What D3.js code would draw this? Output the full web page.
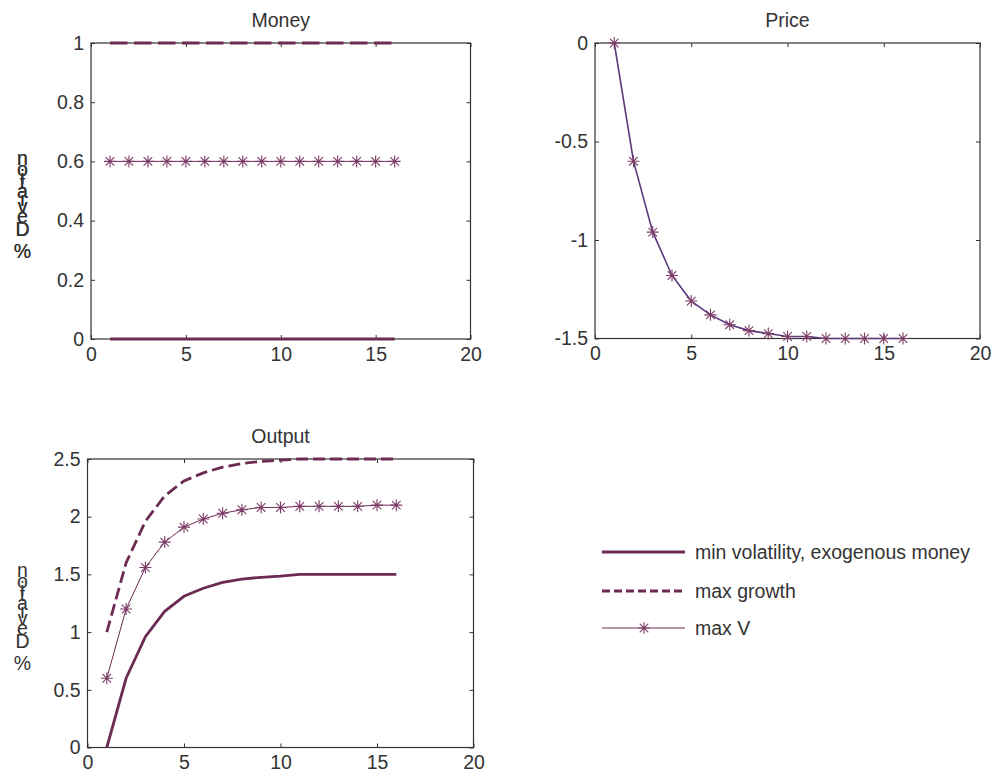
<!DOCTYPE html>
<html>
<head>
<meta charset="utf-8">
<script src="https://cdn.jsdelivr.net/npm/d3@7"></script>
<style>
  body { margin: 0; background: #fff; }
  svg { display: block; font-family: "Liberation Sans", Arial, Helvetica, sans-serif; }
  .tick text { fill: #333; font-size: 19.5px; }
  .title { fill: #333; font-size: 19.5px; }
  .legend text { fill: #333; font-size: 19.5px; }
</style>
</head>
<body>
<script>
'use strict';

// periods on the x axis
let periods = [1, 2, 3, 4, 5, 6, 7, 8, 9, 10, 11, 12, 13, 14, 15, 16];
let xTicks = [0, 5, 10, 15, 20];

// money panel
let moneyMinVol = [0, 0, 0, 0, 0, 0, 0, 0, 0, 0, 0, 0, 0, 0, 0, 0];
let moneyMaxGrowth = [1, 1, 1, 1, 1, 1, 1, 1, 1, 1, 1, 1, 1, 1, 1, 1];
let moneyMaxV = [0.6, 0.6, 0.6, 0.6, 0.6, 0.6, 0.6, 0.6, 0.6, 0.6, 0.6, 0.6, 0.6, 0.6, 0.6, 0.6];
let moneyYTicks = [0, 0.2, 0.4, 0.6, 0.8, 1];

// price panel (all series lie on top of each other)
let priceMaxV = [0, -0.6, -0.96, -1.18, -1.31, -1.38, -1.43, -1.46, -1.475, -1.49, -1.49, -1.5, -1.5, -1.5, -1.5, -1.5];
let priceYTicks = [-1.5, -1, -0.5, 0];

// output panel
let outputMinVol = [0, 0.6, 0.96, 1.18, 1.31, 1.38, 1.43, 1.46, 1.475, 1.485, 1.5, 1.5, 1.5, 1.5, 1.5, 1.5];
let outputMaxGrowth = [1, 1.6, 1.96, 2.18, 2.31, 2.38, 2.43, 2.46, 2.48, 2.49, 2.5, 2.5, 2.5, 2.5, 2.5, 2.5];
let outputMaxV = [0.6, 1.2, 1.56, 1.78, 1.91, 1.98, 2.03, 2.06, 2.08, 2.08, 2.09, 2.09, 2.09, 2.09, 2.1, 2.1];
let outputYTicks = [0, 0.5, 1, 1.5, 2, 2.5];

let legendLabels = ["min volatility, exogenous money", "max growth", "max V"];
let yLabel = "% Deviation";

// colours
let lineColor = "#6b2b53";
let priceColor = "#5a3a7c";
let starColor = "#7d3c66";
let axisColor = "#333";
let fontSize = 19.5;

let svg = d3.select("body").append("svg")
  .attr("width", 997)
  .attr("height", 776);

// asterisk marker like matlab '*'
let starPath = "M-6,0H6M0,-6V6M-4.3,-4.3L4.3,4.3M-4.3,4.3L4.3,-4.3";

let panels = [
  {
    title: "Money", left: 91, right: 470.5, top: 43, bottom: 339,
    yDomain: [0, 1], yTicks: moneyYTicks, labelY: 206.5, dash: "17.5,6.5",
    series: [
      { values: moneyMinVol, kind: "solid" },
      { values: moneyMaxGrowth, kind: "dashed" },
      { values: moneyMaxV, kind: "star" }
    ]
  },
  {
    title: "Price", left: 595, right: 980, top: 43, bottom: 338.5,
    yDomain: [-1.5, 0], yTicks: priceYTicks, labelY: 206.5, dash: "12,5",
    series: [
      { values: priceMaxV, kind: "star", color: priceColor, width: 1.6 }
    ]
  },
  {
    title: "Output", left: 87.5, right: 473.5, top: 459, bottom: 747.5,
    yDomain: [0, 2.5], yTicks: outputYTicks, labelY: 618.5, dash: "12,5",
    series: [
      { values: outputMinVol, kind: "solid" },
      { values: outputMaxGrowth, kind: "dashed" },
      { values: outputMaxV, kind: "star" }
    ]
  }
];

panels.forEach(drawPanel);
drawLegend();

function drawPanel(p) {
  let x = d3.scaleLinear().domain([0, 20]).range([p.left, p.right]);
  let y = d3.scaleLinear().domain(p.yDomain).range([p.bottom, p.top]);
  let g = svg.append("g");

  // box
  g.append("rect")
    .attr("x", p.left).attr("y", p.top)
    .attr("width", p.right - p.left).attr("height", p.bottom - p.top)
    .attr("fill", "none").attr("stroke", axisColor).attr("stroke-width", 1.2);

  // axes with inward ticks, matlab uses a plain hyphen for minus
  let fmt = d => String(d);
  let bottomAxis = g.append("g")
    .attr("transform", "translate(0," + p.bottom + ")")
    .call(d3.axisBottom(x).tickValues(xTicks).tickSize(-4).tickSizeOuter(0).tickPadding(8).tickFormat(fmt));
  let leftAxis = g.append("g")
    .attr("transform", "translate(" + p.left + ",0)")
    .call(d3.axisLeft(y).tickValues(p.yTicks).tickSize(-4).tickSizeOuter(0).tickPadding(7).tickFormat(fmt));
  let topAxis = g.append("g")
    .attr("transform", "translate(0," + p.top + ")")
    .call(d3.axisTop(x).tickValues(xTicks).tickSize(-4).tickSizeOuter(0).tickFormat(""));
  let rightAxis = g.append("g")
    .attr("transform", "translate(" + p.right + ",0)")
    .call(d3.axisRight(y).tickValues(p.yTicks).tickSize(-4).tickSizeOuter(0).tickFormat(""));

  [bottomAxis, leftAxis, topAxis, rightAxis].forEach(a => {
    a.select(".domain").remove();
    a.selectAll(".tick line").attr("stroke", axisColor);
    a.attr("font-family", null).attr("font-size", null);
  });

  // title
  g.append("text")
    .attr("class", "title")
    .attr("x", (p.left + p.right) / 2)
    .attr("y", p.top - 16)
    .attr("text-anchor", "middle")
    .text(p.title);

  drawYLabel(22.5, p.labelY);

  let line = d3.line()
    .x((d, i) => x(periods[i]))
    .y(d => y(d));

  p.series.forEach(s => {
    let path = g.append("path")
      .datum(s.values)
      .attr("fill", "none")
      .attr("d", line);
    if (s.kind == "solid") {
      path.attr("stroke", lineColor).attr("stroke-width", 2.8);
    } else if (s.kind == "dashed") {
      path.attr("stroke", lineColor).attr("stroke-width", 2.8).attr("stroke-dasharray", p.dash);
    } else {
      path.attr("stroke", s.color || lineColor).attr("stroke-width", s.width || 1);
      g.selectAll(null)
        .data(s.values)
        .enter()
        .append("path")
        .attr("transform", (d, i) => "translate(" + x(periods[i]) + "," + y(d) + ")")
        .attr("d", starPath)
        .attr("stroke", starColor)
        .attr("stroke-width", 1.1)
        .attr("fill", "none");
    }
  });
}

// y label: glyphs stay upright but are laid out bottom to top
function drawYLabel(cx, cy) {
  let chars = yLabel.split("");
  let tmp = svg.append("text").attr("font-size", fontSize);
  let widths = chars.map(c => {
    tmp.text(c == " " ? "\u00a0" : c);
    return tmp.node().getComputedTextLength();
  });
  tmp.remove();

  let k = 1.03;
  let total = d3.sum(widths) * k;
  let yStart = cy + total / 2;
  let cum = 0;
  chars.forEach((c, i) => {
    let yc = yStart - (cum + widths[i] / 2) * k;
    cum += widths[i];
    if (c == " ") return;
    svg.append("text")
      .attr("x", cx)
      .attr("y", yc)
      .attr("dy", "0.35em")
      .attr("text-anchor", "middle")
      .attr("font-size", fontSize)
      .attr("fill", "#333")
      .text(c);
  });
}

function drawLegend() {
  let rows = [552, 591, 628];
  let kinds = ["solid", "dashed", "star"];
  let lg = svg.append("g").attr("class", "legend");
  legendLabels.forEach((label, i) => {
    let ln = lg.append("line")
      .attr("x1", 602).attr("x2", 685)
      .attr("y1", rows[i]).attr("y2", rows[i])
      .attr("stroke", lineColor);
    if (kinds[i] == "solid") ln.attr("stroke-width", 2.8);
    if (kinds[i] == "dashed") ln.attr("stroke-width", 2.8).attr("stroke-dasharray", "8,4");
    if (kinds[i] == "star") {
      ln.attr("stroke-width", 1);
      lg.append("path")
        .attr("transform", "translate(644," + rows[i] + ")")
        .attr("d", starPath)
        .attr("stroke", starColor)
        .attr("stroke-width", 1.1)
        .attr("fill", "none");
    }
    lg.append("text")
      .attr("x", 695)
      .attr("y", rows[i])
      .attr("dy", "0.35em")
      .text(label);
  });
}
</script>
</body>
</html>
